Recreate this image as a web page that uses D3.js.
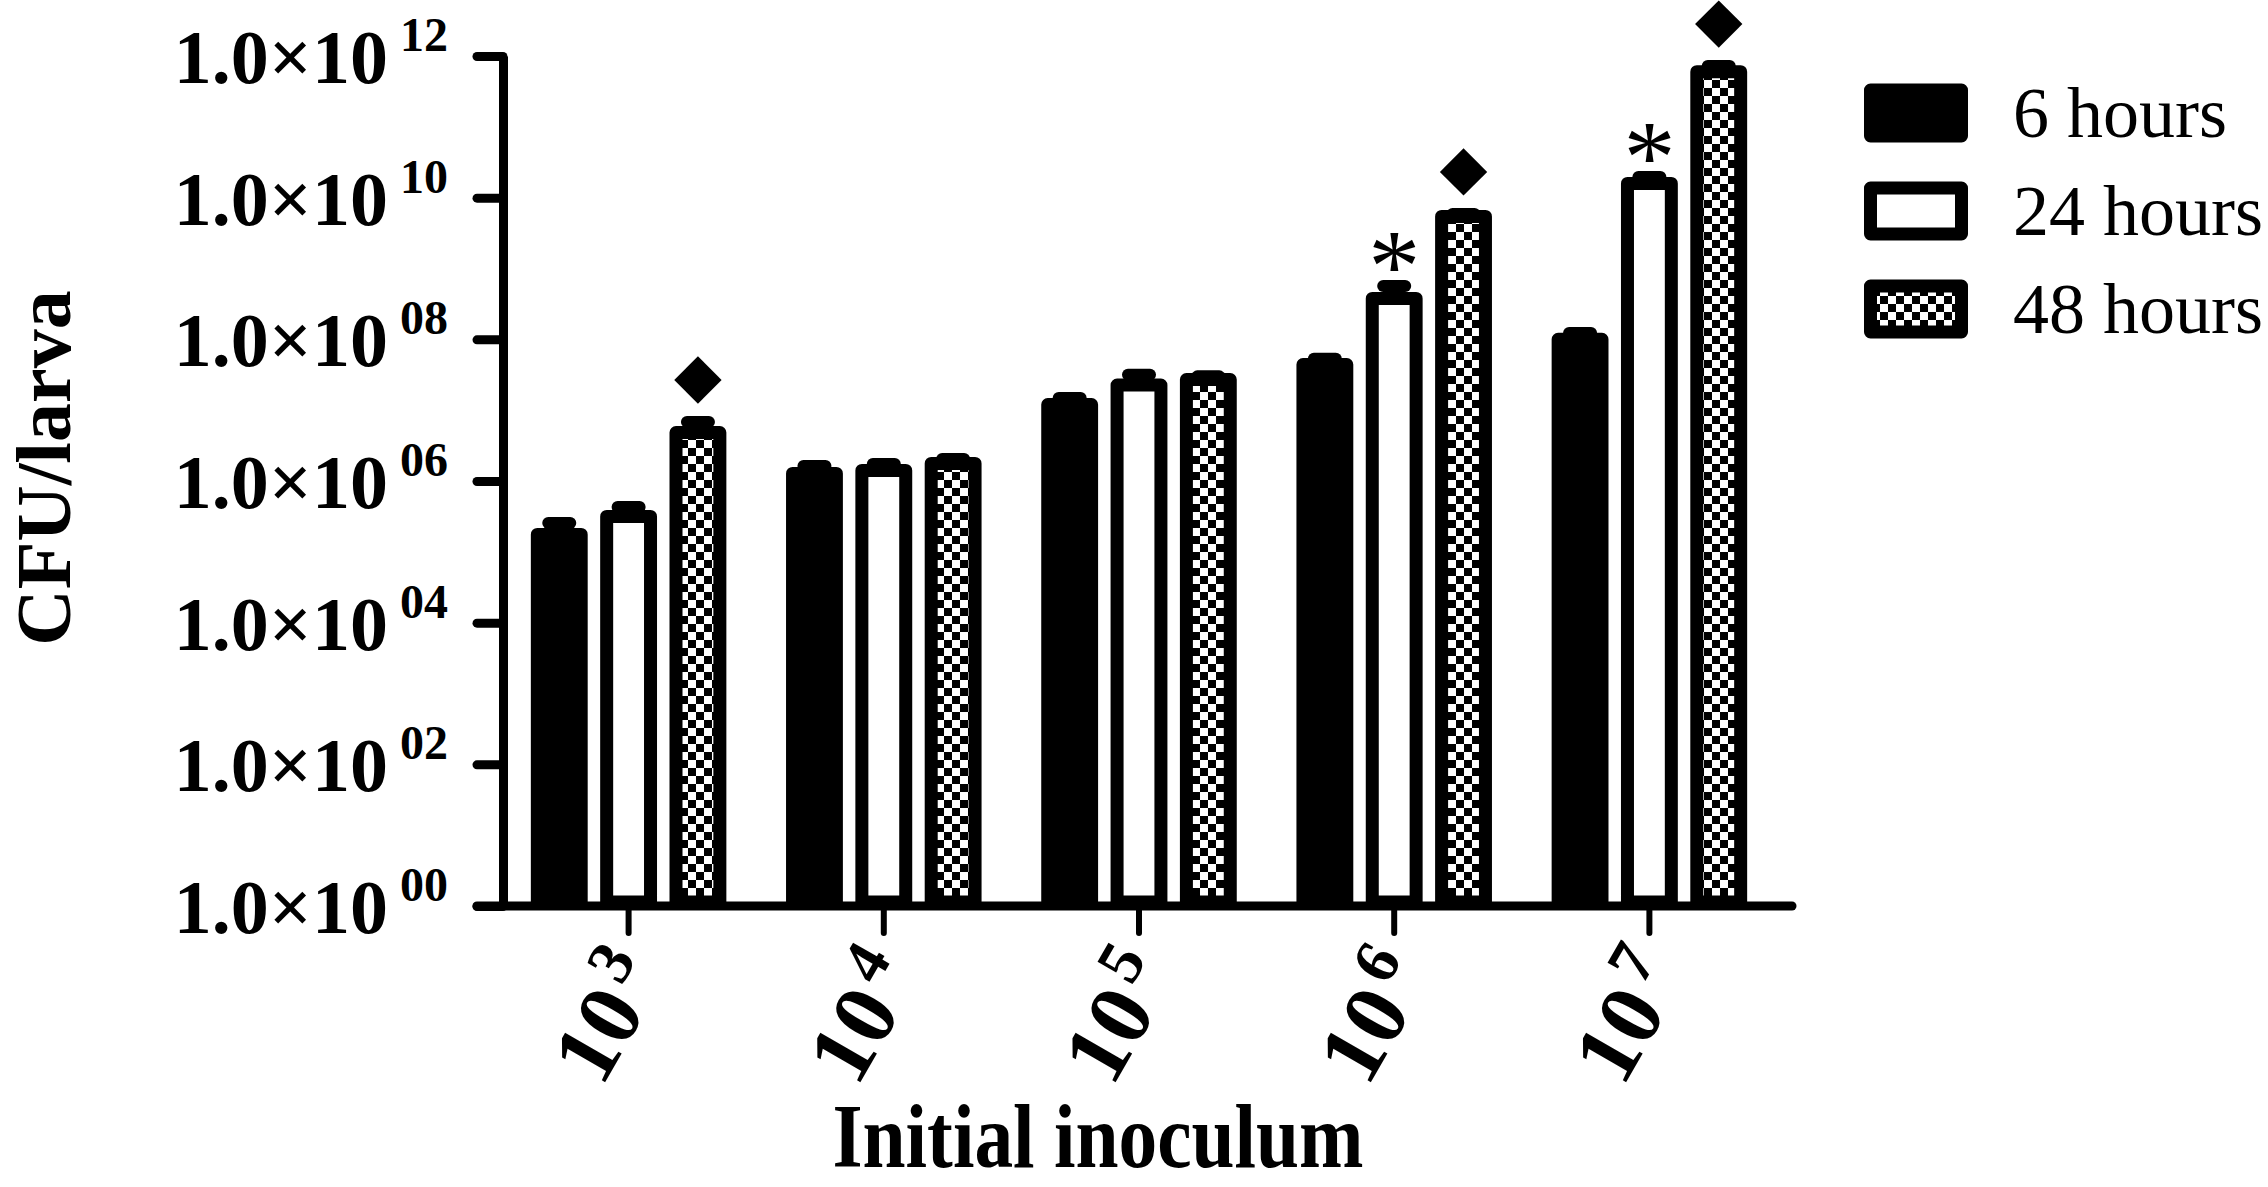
<!DOCTYPE html>
<html>
<head>
<meta charset="utf-8">
<script src="https://cdn.jsdelivr.net/npm/d3@7"></script>
<style>
  body { margin: 0; background: #fff; }
  text { font-family: "Liberation Serif", "Times New Roman", serif; }
</style>
</head>
<body>
<div id="chart"></div>
<script>
// Data
const categories = ["3", "4", "5", "6", "7"];          // initial inoculum exponent (10^x)
const series = ["6 hours", "24 hours", "48 hours"];
const mean6h  = [1.76e5, 1.28e6, 1.2e7, 4.4e7, 1.0e8];
const mean24h = [3.16e5, 1.41e6, 2.26e7, 3.78e8, 1.59e10];
const mean48h = [4.84e6, 1.77e6, 2.7e7, 5.43e9, 6.0e11];
const sem6h   = [0.79e5, 0.35e6, 0.28e7, 0.9e7, 0.23e8];
const sem24h  = [1.14e5, 0.33e6, 0.9e7, 1.88e8, 0.37e10];
const sem48h  = [1.96e6, 0.28e6, 0.3e7, 0.47e9, 1.2e11];
const yTicks = [1e0, 1e2, 1e4, 1e6, 1e8, 1e10, 1e12];
const yTickExp = ["00", "02", "04", "06", "08", "10", "12"];
const diamondMarks = [["3", "48 hours"], ["6", "48 hours"], ["7", "48 hours"]];
const asteriskMarks = [["6", "24 hours"], ["7", "24 hours"]];

const means = {"6 hours": mean6h, "24 hours": mean24h, "48 hours": mean48h};
const sems = {"6 hours": sem6h, "24 hours": sem24h, "48 hours": sem48h};

const W = 2268, H = 1187;
const svg = d3.select("#chart").append("svg")
    .attr("width", W)
    .attr("height", H);

svg.append("rect").attr("width", W).attr("height", H).attr("fill", "#fff");

// checkerboard fill for 48 hours
const defs = svg.append("defs");
const pat = defs.append("pattern")
    .attr("id", "checker")
    .attr("patternUnits", "userSpaceOnUse")
    .attr("width", 16)
    .attr("height", 16);
pat.append("rect").attr("width", 16).attr("height", 16).attr("fill", "#fff");
pat.append("rect").attr("width", 8).attr("height", 8).attr("fill", "#000");
pat.append("rect").attr("x", 8).attr("y", 8).attr("width", 8).attr("height", 8).attr("fill", "#000");

const fillFor = {"6 hours": "#000", "24 hours": "#fff", "48 hours": "url(#checker)"};

// Scales
const axisX = 503;
const x0 = d3.scaleBand()
    .domain(categories)
    .range([501, 1777]);

const x1 = d3.scaleBand()
    .domain(series)
    .range([-104, 104])
    .paddingInner(0.18)
    .paddingOuter(0.09);

const y = d3.scaleLog()
    .domain([1, 1e12])
    .range([906, 56]);

const cx = c => x0(c) + x0.bandwidth() / 2;

// Y axis
const yAxis = svg.append("g")
    .attr("transform", `translate(${axisX},0)`)
    .call(d3.axisLeft(y).tickValues(yTicks).tickSize(26).tickSizeOuter(0).tickFormat(""));
yAxis.select(".domain").attr("stroke", "#000").attr("stroke-width", 9);
yAxis.selectAll(".tick line").attr("stroke", "#000").attr("stroke-width", 9).attr("stroke-linecap", "round");

yTicks.forEach((t, i) => {
  const label = svg.append("text")
      .attr("x", 448)
      .attr("y", y(t) + 27)
      .attr("text-anchor", "end")
      .attr("font-weight", "bold")
      .attr("font-size", 76);
  label.append("tspan").text("1.0\u00d710");
  label.append("tspan")
      .attr("dx", 12)
      .attr("dy", -32)
      .attr("font-size", 48)
      .text(yTickExp[i]);
});

// X axis
const xAxis = svg.append("g")
    .attr("transform", `translate(0,${y(1)})`)
    .call(d3.axisBottom(x0).tickSize(27).tickFormat(""));
xAxis.select(".domain").remove();
xAxis.selectAll(".tick line").attr("stroke", "#000").attr("stroke-width", 6).attr("stroke-linecap", "round");
svg.append("line")
    .attr("x1", 477).attr("x2", 1792)
    .attr("y1", y(1)).attr("y2", y(1))
    .attr("stroke", "#000")
    .attr("stroke-width", 9)
    .attr("stroke-linecap", "round");

categories.forEach(c => {
  const label = svg.append("text")
      .attr("transform", `translate(${cx(c) + 38},${y(1) + 70}) rotate(-60)`)
      .attr("text-anchor", "end")
      .attr("font-weight", "bold")
      .attr("font-size", 90);
  label.append("tspan").text("10");
  label.append("tspan")
      .attr("dx", 8)
      .attr("dy", -34)
      .attr("font-size", 64)
      .text(c);
});

// Bars
const sw = 13;
categories.forEach((c, i) => {
  series.forEach(s => {
    const v = means[s][i];
    const bx = cx(c) + x1(s);
    svg.append("rect")
        .attr("x", bx + sw / 2)
        .attr("y", y(v))
        .attr("width", x1.bandwidth() - sw)
        .attr("height", y(1) - y(v) - 4)
        .attr("fill", fillFor[s])
        .attr("stroke", "#000")
        .attr("stroke-width", sw)
        .attr("stroke-linejoin", "round");

    // error bar (upper only)
    const mx = bx + x1.bandwidth() / 2;
    const up = y(v + sems[s][i]);
    svg.append("line")
        .attr("x1", mx).attr("x2", mx)
        .attr("y1", y(v)).attr("y2", up)
        .attr("stroke", "#000").attr("stroke-width", 12);
    svg.append("line")
        .attr("x1", mx - 11).attr("x2", mx + 11)
        .attr("y1", up).attr("y2", up)
        .attr("stroke", "#000").attr("stroke-width", 12)
        .attr("stroke-linecap", "round");
  });
});

// Significance markers
const markPos = (c, s) => {
  const i = categories.indexOf(c);
  return {
    x: cx(c) + x1(s) + x1.bandwidth() / 2,
    top: y(means[s][i] + sems[s][i])
  };
};

diamondMarks.forEach(([c, s]) => {
  const p = markPos(c, s);
  svg.append("path")
      .attr("d", d3.symbol().type(d3.symbolSquare).size(1120)())
      .attr("transform", `translate(${p.x},${p.top - 42}) rotate(45)`)
      .attr("fill", "#000");
});

asteriskMarks.forEach(([c, s]) => {
  const p = markPos(c, s);
  svg.append("text")
      .attr("x", p.x)
      .attr("y", p.top - 33 + 48)
      .attr("text-anchor", "middle")
      .attr("font-size", 104)
      .text("*");
});

// Axis titles
svg.append("text")
    .attr("transform", `translate(70,468) rotate(-90)`)
    .attr("text-anchor", "middle")
    .attr("font-weight", "bold")
    .attr("font-size", 78)
    .text("CFU/larva");

svg.append("text")
    .attr("transform", `translate(1098,1167) scale(0.86,1)`)
    .attr("text-anchor", "middle")
    .attr("font-weight", "bold")
    .attr("font-size", 90)
    .text("Initial inoculum");

// Legend
const legend = svg.append("g");
series.forEach((s, i) => {
  const cy = 113 + i * 98;
  legend.append("rect")
      .attr("x", 1870.5)
      .attr("y", cy - 23)
      .attr("width", 91)
      .attr("height", 46)
      .attr("fill", fillFor[s])
      .attr("stroke", "#000")
      .attr("stroke-width", sw)
      .attr("stroke-linejoin", "round");
  legend.append("text")
      .attr("x", 2013)
      .attr("y", cy + 24)
      .attr("font-size", 72)
      .text(s);
});
</script>
</body>
</html>
